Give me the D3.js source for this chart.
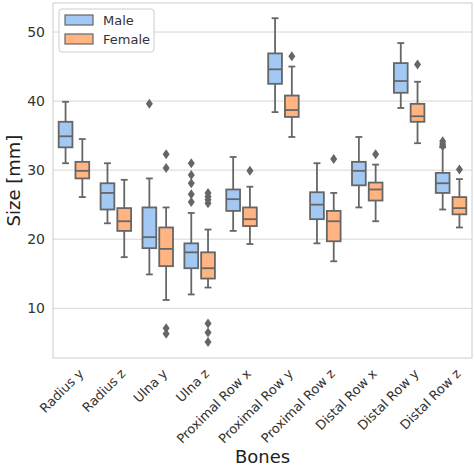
<!DOCTYPE html><html><head><meta charset="utf-8"><script src="https://cdn.jsdelivr.net/npm/d3@7"></script>
<style>body{margin:0;background:#fff}</style></head><body><svg id="c" width="474" height="469"></svg>
<script>
const categories=["Radius y","Radius z","Ulna y","Ulna z","Proximal Row x","Proximal Row y","Proximal Row z","Distal Row x","Distal Row y","Distal Row z"];
const groups=["Male","Female"];
// [lowWhisker,q1,median,q3,highWhisker]
const maleStats=[[31.0,33.3,34.9,37.0,39.9],[22.3,24.3,26.7,28.1,31.0],[14.9,18.7,20.3,24.6,28.8],[12.0,15.8,18.1,19.4,23.8],[21.2,24.1,25.8,27.2,31.9],[38.4,42.5,44.6,46.9,52.0],[19.4,22.9,25.0,26.8,31.0],[24.6,27.8,29.9,31.2,34.8],[39.0,41.2,42.9,45.5,48.4],[24.3,26.7,28.1,29.6,33.3]];
const femaleStats=[[26.1,28.8,29.9,31.2,34.5],[17.4,21.2,22.6,24.5,28.6],[11.2,16.1,18.6,21.7,24.6],[13.0,14.3,15.8,18.1,21.4],[19.3,21.9,22.9,24.6,27.6],[34.8,37.7,38.7,40.8,45.0],[16.8,19.7,22.6,24.1,26.7],[22.6,25.6,27.2,28.2,30.8],[33.9,37.0,37.8,39.6,42.8],[21.7,23.6,24.5,26.1,28.7]];
const maleOutliers=[[],[],[39.6],[31.0,29.3,28.1,26.5,25.4],[],[],[],[],[],[34.2,33.8,33.5]];
const femaleOutliers=[[],[],[32.3,30.3,7.1,6.3],[26.7,26.2,25.7,25.2,7.8,6.5,5.1],[29.9],[46.5],[31.6],[32.3],[45.3],[30.1]];
const yTicks=[10,20,30,40,50];
const colors=["#a1c9f4","#ffb482"];

const svg=d3.select("#c");
const L=53,R=472,T=3,B=358;
const x=d3.scaleBand().domain(categories).range([L,R]);
const xs=d3.scaleBand().domain(groups).range([0,x.bandwidth()]).paddingInner(0).paddingOuter(0.25);
const y=d3.scaleLinear().domain([2.8,54.2]).range([B,T]);
const grey="#666";
svg.append("g").selectAll("line").data(yTicks).join("line").attr("x1",L).attr("x2",R).attr("y1",d=>y(d)).attr("y2",d=>y(d)).attr("stroke","#d6d6d6").attr("stroke-width",1);
svg.append("rect").attr("x",L).attr("y",T).attr("width",R-L).attr("height",B-T).attr("fill","none").attr("stroke","#ccc");
svg.append("g").selectAll("text").data(yTicks).join("text").attr("x",L-8).attr("y",d=>y(d)).attr("dy","0.35em").attr("text-anchor","end").attr("font-family","DejaVu Sans").attr("font-size",14).attr("fill","#333").text(d=>d);
[maleStats,femaleStats].forEach((stats,gi)=>{
 const outs=gi?femaleOutliers:maleOutliers;
 stats.forEach((s,ci)=>{
  const x0=x(categories[ci])+xs(groups[gi])+1.5,w=xs.bandwidth()-3,cx=x0+w/2;
  const g=svg.append("g").attr("stroke",grey).attr("stroke-width",1.8);
  g.append("line").attr("x1",cx).attr("x2",cx).attr("y1",y(s[0])).attr("y2",y(s[1]));
  g.append("line").attr("x1",cx).attr("x2",cx).attr("y1",y(s[3])).attr("y2",y(s[4]));
  g.append("line").attr("x1",cx-w/4).attr("x2",cx+w/4).attr("y1",y(s[0])).attr("y2",y(s[0]));
  g.append("line").attr("x1",cx-w/4).attr("x2",cx+w/4).attr("y1",y(s[4])).attr("y2",y(s[4]));
  g.append("rect").attr("x",x0).attr("width",w).attr("y",y(s[3])).attr("height",y(s[1])-y(s[3])).attr("fill",colors[gi]);
  g.append("line").attr("x1",x0).attr("x2",x0+w).attr("y1",y(s[2])).attr("y2",y(s[2]));
  outs[ci].forEach(o=>svg.append("path").attr("d",`M${cx},${y(o)-5}L${cx+3.5},${y(o)}L${cx},${y(o)+5}L${cx-3.5},${y(o)}Z`).attr("fill",grey));
 });
});
categories.forEach(c=>{
 const cx=x(c)+x.bandwidth()/2;
 svg.append("text").attr("transform",`translate(${cx+4},${B+10}) rotate(-45)`).attr("text-anchor","end").attr("dy","0.7em").attr("font-family","DejaVu Sans").attr("font-size",13).attr("fill","#333").text(c);
});
svg.append("text").attr("transform",`translate(20,${(T+B)/2}) rotate(-90)`).attr("text-anchor","middle").attr("font-family","DejaVu Sans").attr("font-size",18).attr("fill","#222").text("Size [mm]");
svg.append("text").attr("x",(L+R)/2).attr("y",463).attr("text-anchor","middle").attr("font-family","DejaVu Sans").attr("font-size",18).attr("fill","#222").text("Bones");
const lg=svg.append("g");
lg.append("rect").attr("x",59).attr("y",9).attr("width",95).attr("height",43).attr("fill","#fff").attr("stroke","#ccc").attr("rx",3);
groups.forEach((gname,i)=>{
 lg.append("rect").attr("x",65).attr("y",15+i*19).attr("width",28).attr("height",10).attr("fill",colors[i]).attr("stroke",grey).attr("stroke-width",1.2);
 lg.append("text").attr("x",103).attr("y",20+i*19).attr("dy","0.35em").attr("font-family","DejaVu Sans").attr("font-size",13).attr("fill","#333").text(gname);
});
</script></body></html>
